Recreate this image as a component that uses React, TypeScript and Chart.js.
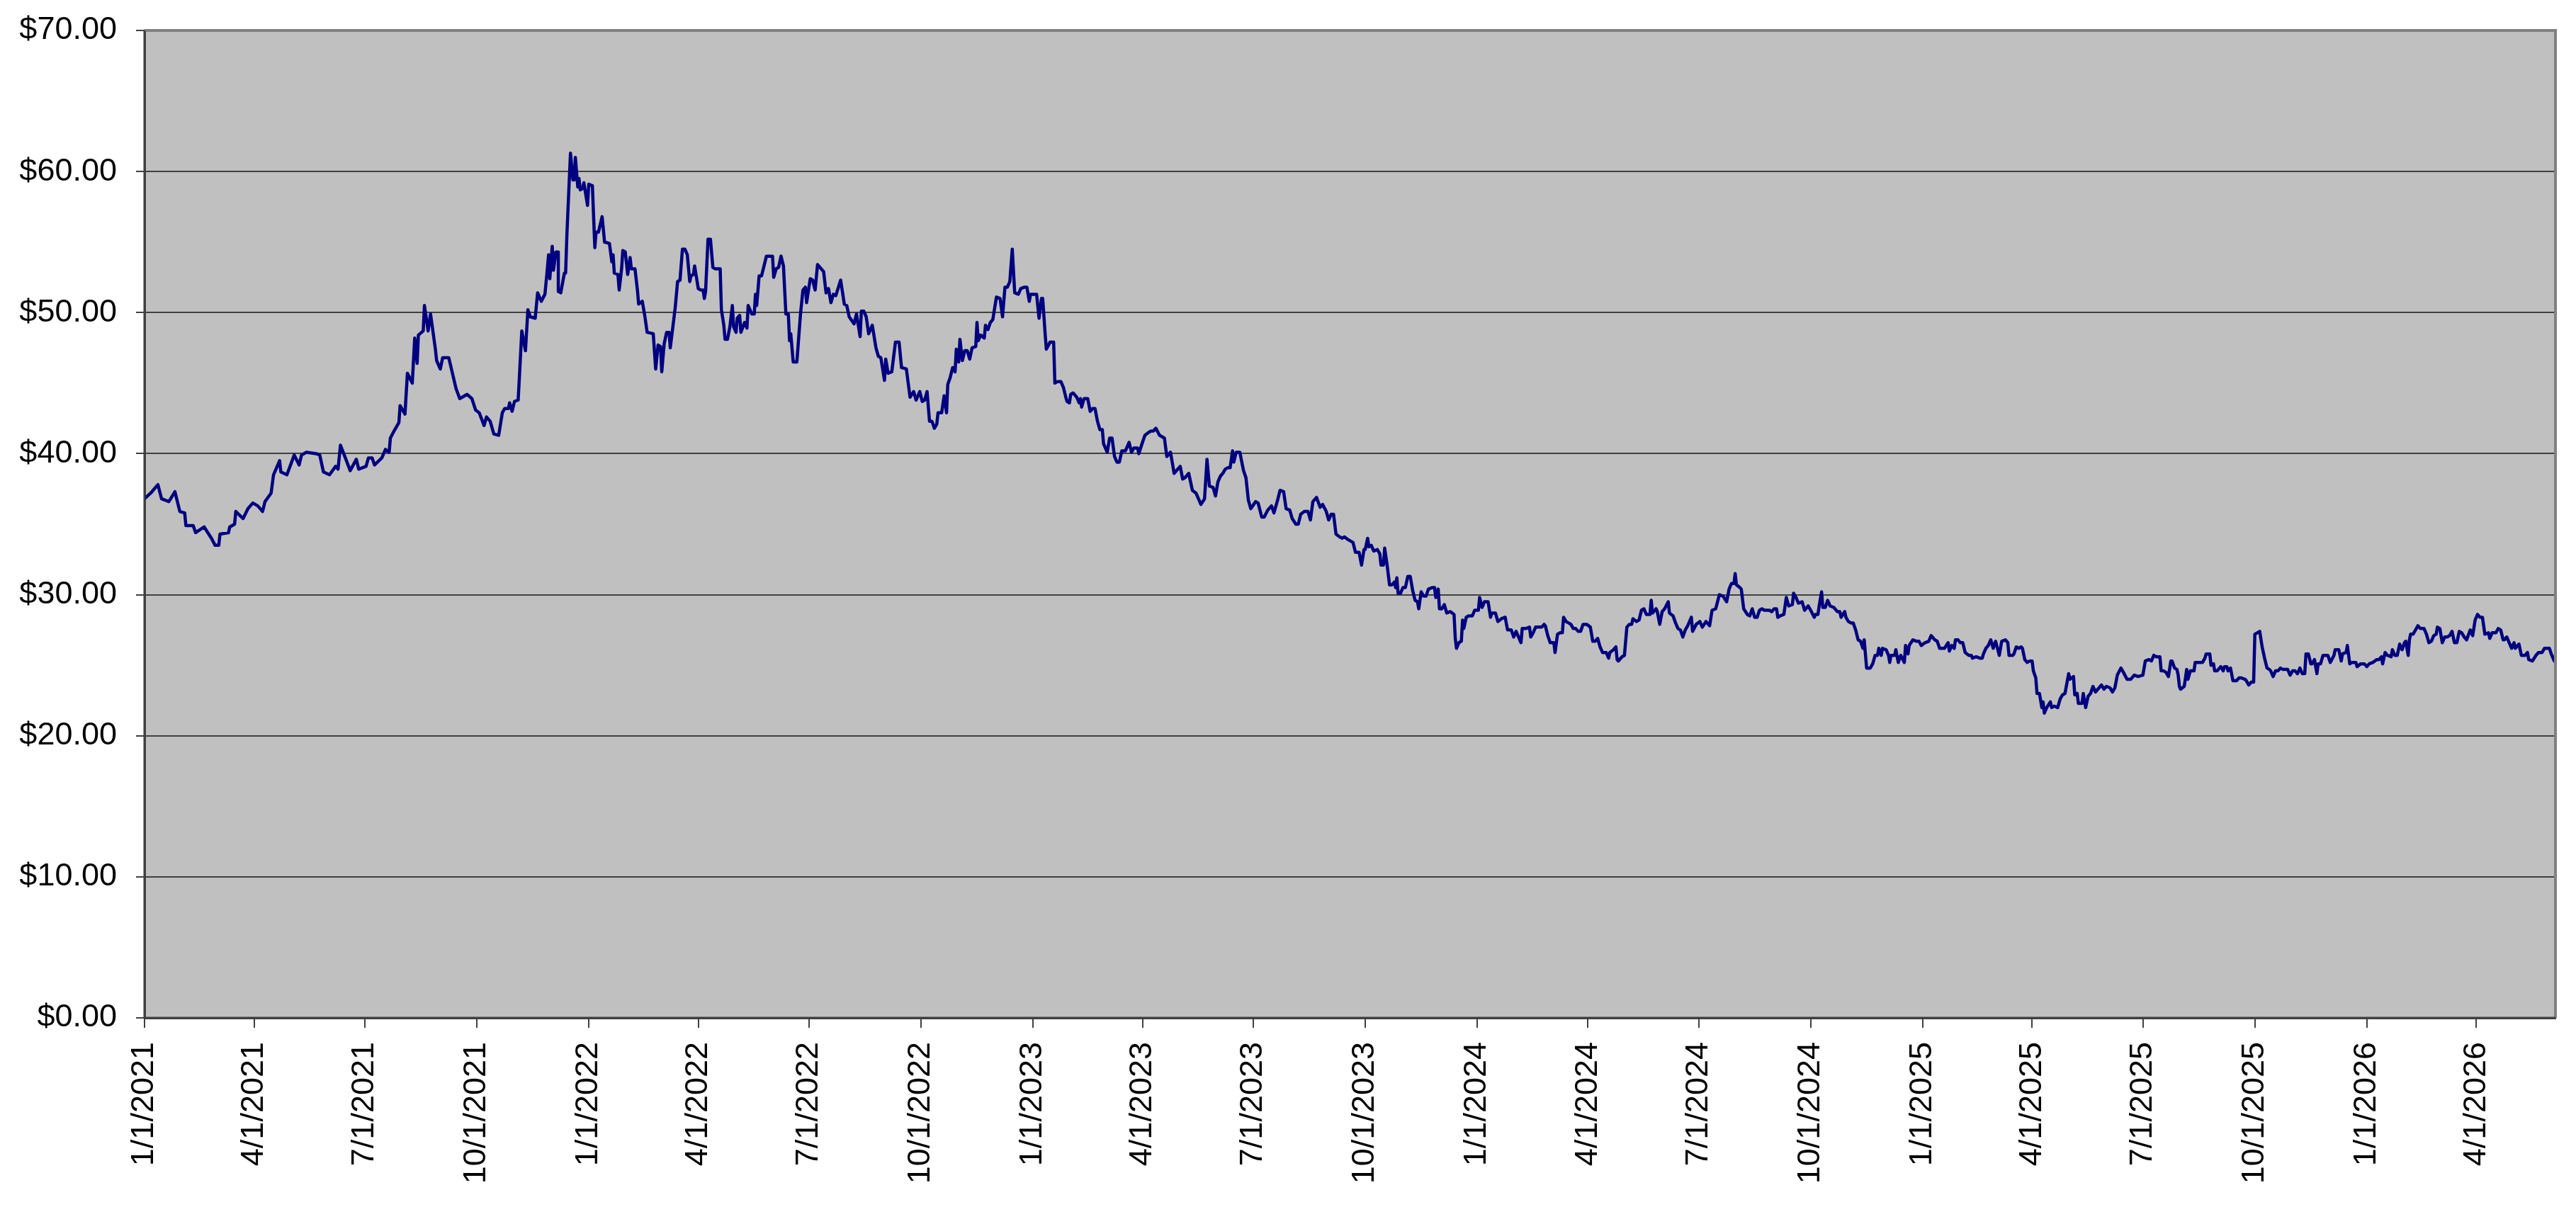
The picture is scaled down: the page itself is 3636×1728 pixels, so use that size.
import React, { useEffect, useRef } from "react";
import { Chart, registerables } from "chart.js";

Chart.register(...registerables);

// x values: days since 1/1/2021 ; y values: price in $
const days2021 = [0,5,11,14,20,25,29,33,34,40,42,49,55,58,61,62,69,70,74,75,81,85,89,93,97,99,104,106,111,112,117,123,127,129,133,141,144,147,152,157,159,161,165,169,174,176,182,184,187,189,195,198,201,202,205,209,210,214,216,220,222,224,225,229,230,233,235,239,240,243,245,250,253,256,259,265,269,272,275,279,281,284,287,291,294,296,299,300,302,304,307,308,310,313,315,317,321,323,326,329,331];
const prices2021 = [36.8,37.2,37.8,36.8,36.6,37.3,35.9,35.8,34.9,34.9,34.4,34.8,34.0,33.5,33.5,34.3,34.4,34.8,35.0,35.9,35.4,36.1,36.5,36.3,35.9,36.6,37.2,38.5,39.5,38.7,38.5,39.9,39.2,39.9,40.1,40.0,39.9,38.7,38.5,39.1,38.9,40.6,39.7,38.8,39.6,38.9,39.1,39.7,39.7,39.2,39.7,40.3,40.1,41.1,41.6,42.2,43.4,42.8,45.7,45.0,48.2,46.4,48.4,48.7,50.5,48.7,49.9,47.4,46.6,46.0,46.8,46.8,45.7,44.6,43.9,44.2,43.9,43.1,42.9,42.0,42.6,42.3,41.4,41.3,42.9,43.2,43.2,43.6,43.0,43.7,43.8,45.4,48.7,47.3,50.2,49.7,49.6,51.4,50.8,51.3,53.1];

const days2022 = [332,333,335,336,338,340,340,342,345,346,347,349,350,352,353,354,356,357,358,360,361,364,365,368,370,371,373,376,378,382,384,385,386,389,390,392,393,395,397,399,400,403,405,406,409,411,413,418,420,422,424,425,427,429,431,432,436,438,440,442,444,446,448,449,451,452,455,457,459,460,461,463,465,467,469,473,474,476,477,479,481,483,484,486,487,489,490,493,495,496,499,501,502,503,505,507,511,514,516,517,519,521,523,525,527,529,530,531,533,536,539,541,543,544,547,549,551,553,556,558,560,562,564,566,568,572,575,577,579,583,585,588,589,591,593,595,598,601,603,605,608,609,611,614,617,620,622,626,629,632,634,637,639,641,643,645,647,649,651,652,655,657,659,660,662,664];
const prices2022 = [54.1,52.4,54.7,53.0,54.3,54.3,51.5,51.4,52.8,52.8,55.4,59.4,61.3,59.4,59.4,61.0,58.9,59.5,58.7,58.8,59.2,57.6,59.1,59.0,54.6,55.7,55.7,56.8,55.0,54.9,53.6,54.1,52.8,52.7,51.6,53.1,54.4,54.3,52.7,53.9,53.1,53.1,51.6,50.6,50.8,49.8,48.6,48.5,46.0,47.7,47.6,45.8,47.8,48.6,48.6,47.5,50.3,52.2,52.3,54.5,54.5,54.1,52.2,52.6,52.7,53.3,51.7,51.6,51.6,51.0,51.5,55.2,55.2,53.2,53.1,53.1,50.2,49.1,48.1,48.1,49.0,50.5,49.0,48.6,49.6,49.8,48.6,49.3,48.9,50.5,49.9,49.9,51.3,50.5,52.6,52.6,54.0,54.0,54.0,52.5,53.1,53.2,54.0,53.3,49.9,49.9,48.0,48.5,46.5,46.5,49.9,51.6,51.8,50.7,52.4,52.3,51.6,53.4,53.1,52.9,51.4,51.7,50.7,51.3,51.2,52.3,50.6,50.5,49.7,49.2,49.9,48.3,50.1,50.1,49.7,48.5,49.1,47.5,46.9,46.8,45.2,46.7,45.7,45.8,47.9,47.9,46.1,46.0,44.0,44.4,43.8,44.4,43.7,43.8,44.4,42.3,42.3,41.8,42.1,42.9,42.9,44.1,42.9,44.9,45.4,46.1];

const days2023 = [666,667,669,670,672,674,676,678,680,683,684,685,687,690,691,693,695,697,700,703,705,707,709,711,713,715,718,720,723,725,727,728,733,735,737,738,740,741,744,747,748,750,753,755,757,758,760,761,763,766,768,769,770,772,775,777,779,781,783,785,787,788,791,793,795,797,799,801,803,806,809,811,813,816,817,820,822,825,827,829,831,834,836,838,840,843,846,848,851,853,855,858,861,864,868,871,873,875,878,880,882,884,886,888,890,892,894,895,897,900,903,905,907,909,913,915,918,920,923,926,928,931,933,936,938,941,943,946,948,950,953,956,958,960,963,966,968,971,973,975,977,979,982,984,986,989,993,995];
const prices2023 = [45.8,47.4,46.5,48.1,46.6,47.3,47.3,46.7,47.5,47.6,49.3,48.0,48.4,48.2,49.1,48.8,49.3,49.5,51.1,51.0,49.7,51.8,51.8,52.2,54.5,51.4,51.3,51.7,51.8,51.8,50.8,51.3,51.3,49.6,51.0,51.0,48.5,47.4,47.9,47.9,45.0,45.1,45.1,44.7,44.0,43.7,43.6,44.2,44.3,44.0,43.6,43.9,43.3,43.9,43.9,43.0,43.2,43.2,42.3,41.7,41.7,40.7,40.1,41.1,41.1,39.8,39.4,39.4,40.2,40.2,40.8,40.1,40.4,40.4,40.0,40.8,41.3,41.5,41.6,41.6,41.8,41.3,41.2,41.1,39.8,40.1,38.6,38.8,39.1,38.2,38.3,38.6,37.4,37.2,36.4,36.8,39.6,37.7,37.6,37.0,38.0,38.4,38.6,38.9,39.0,39.0,40.2,39.4,40.1,40.1,38.8,38.3,36.7,36.1,36.6,36.5,35.5,35.5,36.0,36.3,35.8,36.7,37.4,37.3,36.1,36.0,35.4,35.0,35.0,35.7,35.9,35.9,35.3,36.6,36.9,36.2,36.4,35.9,35.3,35.7,35.7,34.3,34.1,34.0,34.1,33.9,33.7,33.0];

const days2024 = [998,1000,1002,1003,1005,1006,1008,1010,1013,1015,1016,1018,1019,1021,1022,1023,1025,1027,1028,1029,1030,1032,1034,1036,1038,1040,1042,1044,1046,1047,1049,1051,1053,1055,1058,1060,1061,1063,1064,1066,1068,1070,1073,1076,1077,1078,1080,1082,1083,1084,1086,1088,1091,1093,1096,1097,1099,1101,1104,1106,1107,1110,1112,1115,1118,1120,1123,1125,1127,1129,1131,1132,1135,1138,1139,1141,1143,1146,1148,1150,1151,1153,1155,1158,1159,1161,1163,1165,1166,1168,1170,1172,1174,1176,1178,1180,1182,1185,1188,1190,1192,1194,1196,1198,1201,1203,1204,1207,1209,1210,1211,1214,1216,1218,1220,1222,1223,1226,1228,1230,1232,1234,1237,1238,1239,1242,1243,1245,1247,1249,1252,1253,1256,1258,1260,1262,1264,1266,1268,1271,1272,1275,1278,1280,1283,1286,1288,1291,1294,1297,1300,1302,1304,1306,1307,1308,1311,1312,1314,1317,1319,1321,1323,1325,1327];
const prices2024 = [33.0,32.1,33.2,33.2,34.0,33.4,33.5,33.1,33.2,32.9,32.1,32.1,33.3,32.1,31.4,30.7,30.7,30.9,30.5,31.2,30.1,30.1,30.5,30.5,31.3,31.3,30.3,29.6,29.5,29.0,30.2,29.9,29.9,30.4,30.5,30.5,29.8,30.4,29.0,29.0,29.3,28.7,28.8,28.6,26.9,26.2,26.6,26.7,28.2,27.6,28.4,28.5,28.5,28.9,28.9,29.8,29.1,29.5,29.5,28.4,28.7,28.7,28.1,28.3,28.4,27.5,27.5,27.0,27.4,27.0,26.6,27.6,27.6,27.7,27.0,27.3,27.7,27.7,27.7,27.9,27.8,27.1,26.6,26.6,25.9,27.2,27.3,27.3,28.4,28.1,28.0,27.9,27.6,27.6,27.4,27.4,27.9,27.9,27.7,26.7,26.7,26.9,26.3,25.9,25.9,25.5,25.9,26.1,26.3,25.4,25.3,25.6,25.7,27.7,27.9,27.9,28.3,28.1,28.2,28.9,29.0,28.6,28.6,29.6,28.7,29.0,28.8,27.9,28.8,29.0,29.5,28.7,28.5,28.0,27.6,27.5,27.0,27.5,27.8,28.4,27.4,27.9,28.1,27.7,28.1,27.8,28.9,29.0,30.0,29.9,29.5,30.4,30.8,30.8,31.5,30.7,30.5,30.4,29.0,28.6,28.5,29.0,28.4,28.4,28.9];

const days2025 = [1329,1331,1335,1337,1339,1341,1342,1344,1347,1349,1351,1354,1355,1357,1359,1362,1364,1367,1369,1372,1373,1375,1376,1378,1379,1381,1383,1385,1388,1391,1393,1394,1397,1398,1400,1402,1404,1406,1408,1410,1412,1413,1415,1418,1420,1422,1424,1425,1427,1428,1431,1433,1434,1435,1438,1439,1441,1443,1446,1447,1449,1450,1453,1456,1458,1460,1463,1466,1468,1471,1473,1475,1477,1479,1482,1483,1485,1487,1488,1490,1492,1494,1496,1499,1501,1502,1505,1508,1510,1511,1513,1515,1517,1519,1521,1524,1526,1529,1531,1532,1535,1536,1538,1540,1542,1543,1545,1547,1549,1551,1552,1554,1555,1557,1559,1560,1561,1563,1566,1567,1569,1572,1574,1576,1578,1581,1582,1585,1586,1588,1589,1592,1593,1595,1597,1599,1601,1603,1606,1608,1610,1612,1615,1617,1619,1621,1624,1626,1629,1632,1635,1638,1642,1644,1647,1649,1651,1653,1656,1657,1659];
const prices2025 = [29.0,28.9,28.9,28.8,29.0,29.0,28.4,28.5,28.6,29.8,29.2,29.3,30.1,29.8,29.4,29.5,28.9,29.2,28.9,28.4,28.6,28.6,29.2,30.2,29.1,29.1,29.6,29.2,29.1,28.8,28.8,28.4,28.8,28.4,28.1,28.0,28.0,27.5,26.8,26.7,26.2,26.8,24.8,24.8,25.1,25.7,25.7,26.2,25.7,26.2,26.1,25.7,25.2,25.7,25.7,26.1,25.2,25.7,25.2,26.4,25.8,26.4,26.8,26.7,26.7,26.4,26.6,26.7,27.1,26.8,26.7,26.2,26.2,26.2,26.6,26.0,26.4,26.2,26.8,26.8,26.6,26.6,25.9,25.7,25.7,25.5,25.6,25.5,25.5,25.8,26.2,26.4,26.8,26.2,26.7,25.7,26.7,26.8,26.6,25.7,25.7,25.8,26.3,26.2,26.3,26.2,25.4,25.2,25.3,25.3,24.6,24.1,23.0,23.0,22.0,22.4,21.6,22.0,22.4,22.0,22.1,22.0,22.6,22.9,23.0,24.4,24.0,24.2,22.9,23.0,22.3,22.3,23.0,22.0,22.8,23.0,23.5,23.1,23.4,23.6,23.3,23.5,23.4,23.1,23.4,24.3,24.8,24.5,24.0,24.0,24.3,24.2,24.3,25.3,25.4,25.3,25.7,25.6,25.6,24.6,24.6];

const days2026 = [1661,1663,1665,1666,1668,1670,1671,1672,1673,1676,1678,1679,1681,1684,1685,1689,1691,1693,1694,1697,1698,1700,1701,1703,1706,1708,1709,1711,1712,1714,1716,1719,1721,1723,1726,1727,1729,1731,1733,1734,1736,1738,1740,1742,1744,1746,1747,1749,1751,1753,1755,1757,1761,1763,1765,1767,1769,1771,1773,1775,1776,1778,1780,1781,1783,1785,1786,1788,1790,1792,1794,1796,1799,1800,1803,1805,1806,1809,1810,1812,1814,1817,1818,1821,1824,1826,1828,1831,1834,1836,1838,1839,1841,1843,1846,1847,1849,1851,1853,1855,1857,1858,1860,1861,1862,1864,1866,1868,1870,1873,1875,1877,1879,1881,1883,1884,1886,1888,1890,1892,1894,1896,1898,1900,1902,1904,1906,1908,1911,1913,1915,1917,1919,1921,1923,1926,1927,1929,1932,1934,1936,1938,1939,1941,1942,1945,1947,1948,1951,1953,1956,1958,1959,1962,1965,1967,1970,1972,1974,1976,1978,1980,1981];
const prices2026 = [24.5,24.2,25.3,25.3,24.8,24.7,24.3,23.5,23.3,23.5,24.7,24.0,24.6,24.6,25.2,25.2,25.2,25.5,25.8,25.8,25.0,25.1,24.6,24.6,24.9,24.6,24.9,24.9,24.6,24.8,23.9,23.9,24.1,24.1,24.0,23.9,23.6,23.8,23.8,27.2,27.3,27.4,26.3,25.5,24.8,24.7,24.6,24.2,24.6,24.6,24.8,24.7,24.7,24.3,24.6,24.6,24.4,24.8,24.4,24.4,25.8,25.8,25.1,25.1,25.4,24.4,25.1,25.1,25.7,25.7,25.7,25.2,25.7,26.1,26.1,25.3,25.8,25.9,26.4,25.1,25.2,25.2,24.9,25.1,25.1,24.9,25.1,25.2,25.4,25.4,25.6,25.1,25.9,25.7,25.6,26.1,25.7,25.7,26.5,26.1,26.6,26.7,25.7,26.8,27.2,27.2,27.5,27.8,27.6,27.6,27.2,26.6,26.7,27.1,27.2,27.7,27.6,26.6,27.0,27.0,27.1,27.4,26.6,26.6,27.4,27.3,27.0,26.8,27.5,27.1,28.2,28.6,28.4,28.4,27.2,27.3,26.9,27.3,27.3,27.6,27.5,26.8,26.8,27.0,26.8,26.2,26.6,26.2,26.5,25.7,25.7,25.9,25.4,25.3,25.7,25.9,25.9,26.2,26.2,26.2,25.7,25.3,25.7];

const tickLabels = ["1/1/2021","4/1/2021","7/1/2021","10/1/2021","1/1/2022","4/1/2022","7/1/2022","10/1/2022","1/1/2023","4/1/2023","7/1/2023","10/1/2023","1/1/2024","4/1/2024","7/1/2024","10/1/2024","1/1/2025","4/1/2025","7/1/2025","10/1/2025","1/1/2026","4/1/2026"];

const yMin = 0;
const yMax = 70;
const yStep = 10;
const lastDay = 1981;

const dayOf = (s: string) => {
  const [m, d, y] = s.split("/").map(Number);
  return Math.round((Date.UTC(y, m - 1, d) - Date.UTC(2021, 0, 1)) / 86400000);
};

const allDays = [...days2021, ...days2022, ...days2023, ...days2024, ...days2025, ...days2026];
const allPrices = [...prices2021, ...prices2022, ...prices2023, ...prices2024, ...prices2025, ...prices2026];

// target plot area inside the 3620x1712 canvas
const AREA = { left: 196, top: 35, right: 3599, bottom: 1429 };

export default function App() {
  const ref = useRef<HTMLCanvasElement | null>(null);
  useEffect(() => {
    if (!ref.current) return;
    Chart.defaults.font.family = "'Liberation Sans', Arial, sans-serif";
    const tickDays = tickLabels.map(dayOf);
    const frame = {
      id: "frame",
      beforeDraw(chart: any) {
        const { ctx, chartArea: a } = chart;
        ctx.save();
        ctx.fillStyle = "#c0c0c0";
        ctx.fillRect(a.left, a.top, a.right - a.left, a.bottom - a.top);
        ctx.restore();
      },
      afterDraw(chart: any) {
        const { ctx, chartArea: a } = chart;
        ctx.save();
        ctx.strokeStyle = "#808080";
        ctx.lineWidth = 4;
        ctx.beginPath();
        ctx.moveTo(a.left, a.top);
        ctx.lineTo(a.right, a.top);
        ctx.lineTo(a.right, a.bottom);
        ctx.stroke();
        ctx.strokeStyle = "#404040";
        ctx.lineWidth = 3;
        ctx.beginPath();
        ctx.moveTo(a.left, a.top);
        ctx.lineTo(a.left, a.bottom);
        ctx.lineTo(a.right, a.bottom);
        ctx.stroke();
        ctx.restore();
      },
    };
    const chart: any = new Chart(ref.current, {
      type: "line",
      data: {
        datasets: [
          {
            data: allDays.map((d, i) => ({ x: d, y: allPrices[i] })),
            borderColor: "#000080",
            borderWidth: 4.5,
            pointRadius: 0,
            pointHoverRadius: 0,
            tension: 0,
            fill: false,
            borderJoinStyle: "round",
          },
        ],
      },
      options: {
        animation: false,
        responsive: true,
        maintainAspectRatio: false,
        layout: { autoPadding: false, padding: { left: 0, top: AREA.top, right: 3620 - AREA.right, bottom: 0 } },
        plugins: { legend: { display: false }, tooltip: { enabled: false } },
        scales: {
          x: {
            type: "linear",
            min: 0,
            max: lastDay,
            afterBuildTicks: (s: any) => {
              s.ticks = tickDays.map((v) => ({ value: v }));
            },
            afterFit: (s: any) => {
              s.height = 1712 - AREA.bottom;
            },
            ticks: {
              autoSkip: false,
              maxRotation: 90,
              minRotation: 90,
              padding: 20,
              color: "#000",
              font: { size: 45, lineHeight: 0.2 },
              callback: (v: any) => {
                const i = tickDays.indexOf(Number(v));
                return i >= 0 ? tickLabels[i] : "";
              },
            },
            grid: {
              drawOnChartArea: false,
              drawTicks: true,
              tickLength: 14,
              tickColor: "#404040",
              lineWidth: 2,
            },
            border: { display: true, color: "#404040", width: 3 },
          },
          y: {
            min: yMin,
            max: yMax,
            afterFit: (s: any) => {
              s.width = AREA.left;
            },
            ticks: {
              stepSize: yStep,
              padding: 27,
              color: "#000",
              font: { size: 45, lineHeight: 0.2 },
              callback: (v: any) => "$" + Number(v).toFixed(2),
            },
            grid: {
              color: "#404040",
              lineWidth: 2,
              tickLength: 12,
              tickColor: "#404040",
            },
            border: { display: true, color: "#404040", width: 3 },
          },
        },
      },
      plugins: [frame],
    });
    // correct any remaining offset of the plot area
    for (let k = 0; k < 3; k++) {
      const a = chart.chartArea;
      const p = chart.options.layout.padding;
      const dt = a.top - AREA.top;
      const dr = AREA.right - a.right;
      if (Math.abs(dt) < 0.5 && Math.abs(dr) < 0.5) break;
      p.top = Math.max(0, p.top - dt);
      p.right = Math.max(0, p.right - dr);
      chart.update();
    }
    return () => chart.destroy();
  }, []);
  return (
    <div style={{ width: "3620px", height: "1712px", position: "relative" }}>
      <canvas ref={ref} />
    </div>
  );
}
